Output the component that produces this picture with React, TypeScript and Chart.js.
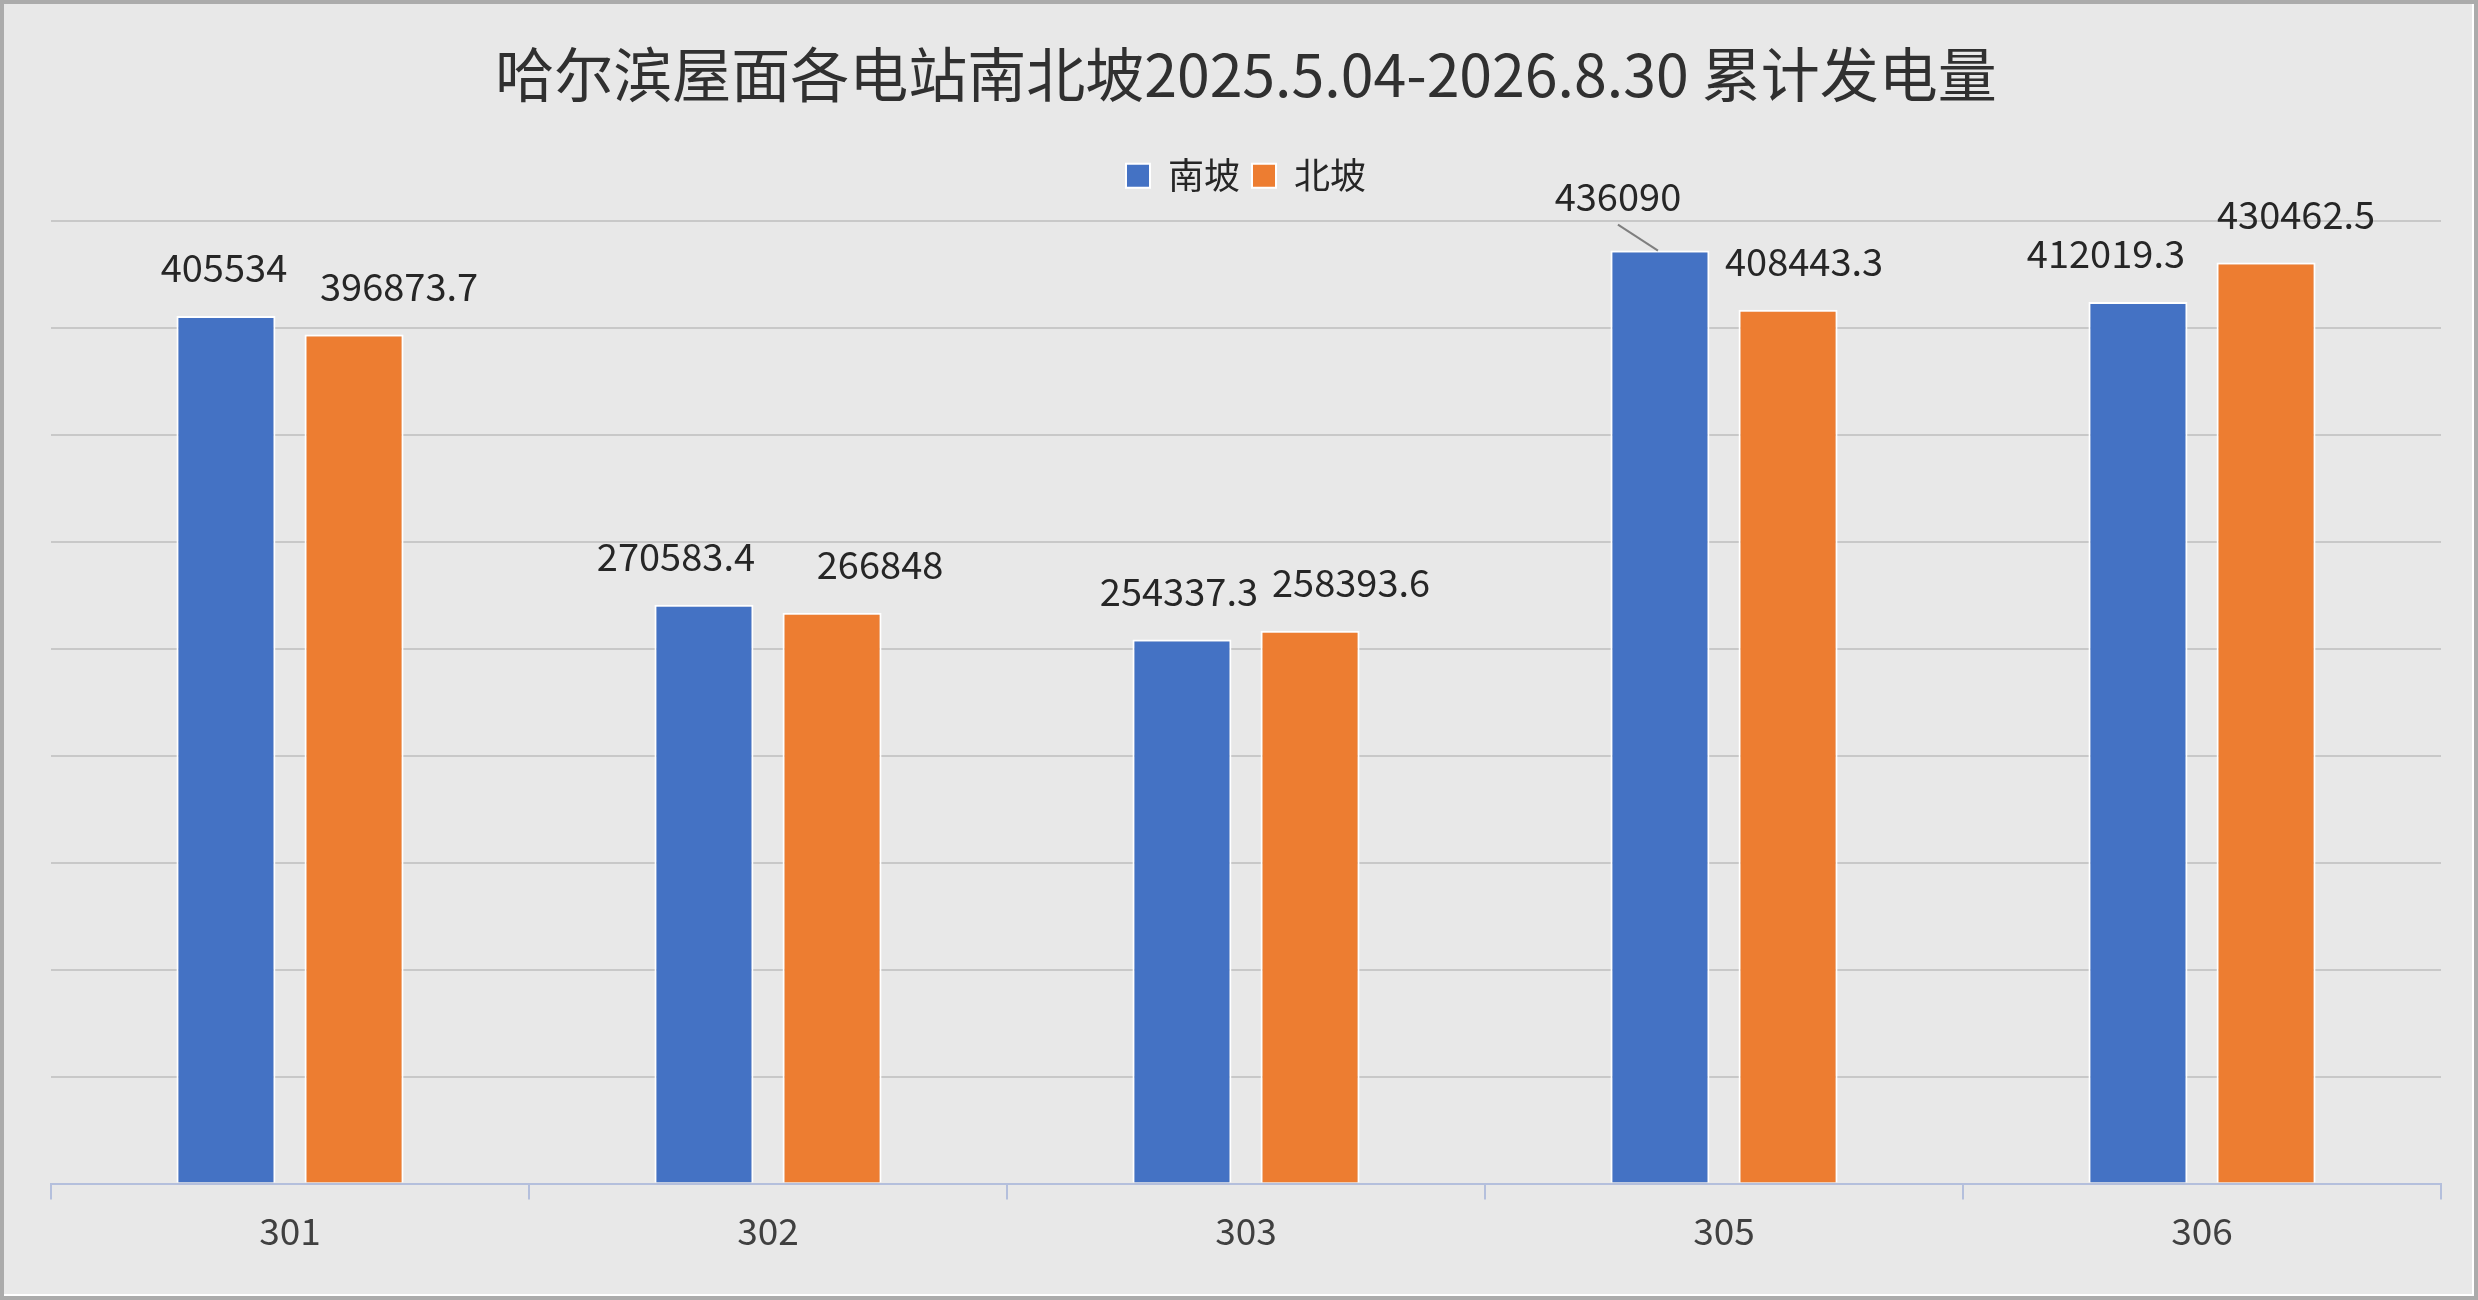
import { useEffect, useRef } from 'react';
import { Chart, registerables, type Plugin } from 'chart.js';

Chart.register(...registerables);

const stations = ['301', '302', '303', '305', '306'];
const southSlope = [405534, 270583.4, 254337.3, 436090, 412019.3];
const northSlope = [396873.7, 266848, 258393.6, 408443.3, 430462.5];
const seriesNames = ['南坡', '北坡'];

const FONT = '"Microsoft YaHei", "Noto Sans CJK SC", "Noto Sans", sans-serif';

// horizontal nudges for the data labels, the way the spreadsheet laid them out
const labelShift = [
  [-2, -28, -3, -42, -32],
  [45, 48, 41, 16, 30],
];

const valueLabels: Plugin<'bar'> = {
  id: 'valueLabels',
  afterDatasetsDraw(chart) {
    const { ctx } = chart;
    ctx.save();
    ctx.font = `38px ${FONT}`;
    ctx.fillStyle = '#262626';
    ctx.textAlign = 'center';
    ctx.textBaseline = 'middle';
    chart.data.datasets.forEach((ds, di) => {
      const meta = chart.getDatasetMeta(di);
      meta.data.forEach((bar, i) => {
        const v = ds.data[i] as number;
        const { x, y } = bar.getProps(['x', 'y'], true) as { x: number; y: number };
        const lx = x + labelShift[di][i];
        // the tallest bar's label was pushed up with a leader line
        const lifted = di === 0 && v === Math.max(...southSlope, ...northSlope);
        const ly = y - (lifted ? 54 : 48);
        if (lifted) {
          ctx.strokeStyle = '#7f7f7f';
          ctx.lineWidth = 2;
          ctx.beginPath();
          ctx.moveTo(lx, ly + 28);
          ctx.lineTo(x - 2, y);
          ctx.stroke();
        }
        ctx.fillText(String(v), lx, ly);
      });
    });
    ctx.restore();
  },
};

const legendGap: Plugin<'bar'> = {
  id: 'legendGap',
  beforeInit(chart) {
    const legend = chart.legend as any;
    if (!legend) return;
    const fit = legend.fit;
    legend.fit = function () {
      fit.call(this);
      this.height += 17;
    };
  },
};

const App = () => {
  const chartRef = useRef<HTMLCanvasElement>(null);
  const chartInstance = useRef<Chart | null>(null);

  useEffect(() => {
    document.body.style.margin = '0';
    if (!chartRef.current) return;
    const ctx = chartRef.current.getContext('2d');
    if (!ctx) return;

    if (chartInstance.current) {
      chartInstance.current.destroy();
    }

    chartInstance.current = new Chart(ctx, {
      type: 'bar',
      data: {
        labels: stations,
        datasets: [
          {
            label: seriesNames[0],
            data: southSlope,
            backgroundColor: '#4472c4',
            borderColor: '#ffffff',
            borderWidth: 2,
          },
          {
            label: seriesNames[1],
            data: northSlope,
            backgroundColor: '#ed7d31',
            borderColor: '#ffffff',
            borderWidth: 2,
          },
        ],
      },
      options: {
        responsive: false,
        animation: false,
        categoryPercentage: 0.536,
        barPercentage: 0.773,
        layout: { padding: { left: 47, right: 31, top: 0, bottom: 32 } },
        plugins: {
          title: {
            display: true,
            text: '哈尔滨屋面各电站南北坡2025.5.04-2026.8.30 累计发电量',
            color: '#303030',
            font: { family: FONT, size: 59, weight: 'normal', lineHeight: 1.2 },
            padding: { top: 35, bottom: 36 },
          },
          legend: {
            display: true,
            position: 'top',
            labels: {
              color: '#262626',
              font: { family: FONT, size: 36 },
              boxWidth: 24,
              boxHeight: 24,
              padding: 12,
            },
          },
          tooltip: { enabled: false },
        },
        scales: {
          x: {
            grid: {
              display: true,
              drawOnChartArea: false,
              drawTicks: true,
              tickLength: 16,
              color: '#b4bfdc',
              lineWidth: 2,
              offset: true,
            },
            border: { display: true, color: '#b4bfdc', width: 2 },
            ticks: {
              color: '#404040',
              font: { family: FONT, size: 37 },
              padding: 9,
            },
          },
          y: {
            min: 0,
            max: 450000,
            ticks: { display: false, stepSize: 50000 },
            grid: { color: '#c8c8c8', lineWidth: 2, drawTicks: false },
            border: { display: false },
          },
        },
      },
      plugins: [valueLabels, legendGap],
    });

    return () => {
      if (chartInstance.current) {
        chartInstance.current.destroy();
        chartInstance.current = null;
      }
    };
  }, []);

  return (
    <div
      style={{
        width: 2478,
        height: 1300,
        boxSizing: 'border-box',
        border: '4px solid #ababab',
        background: '#e8e8e8',
      }}
    >
      <div
        style={{
          width: 2470,
          height: 1292,
          boxSizing: 'border-box',
          borderRight: '2px solid #ffffff',
          borderBottom: '2px solid #ffffff',
        }}
      >
        <canvas ref={chartRef} width={2468} height={1290} style={{ display: 'block' }} />
      </div>
    </div>
  );
};

export default App;
